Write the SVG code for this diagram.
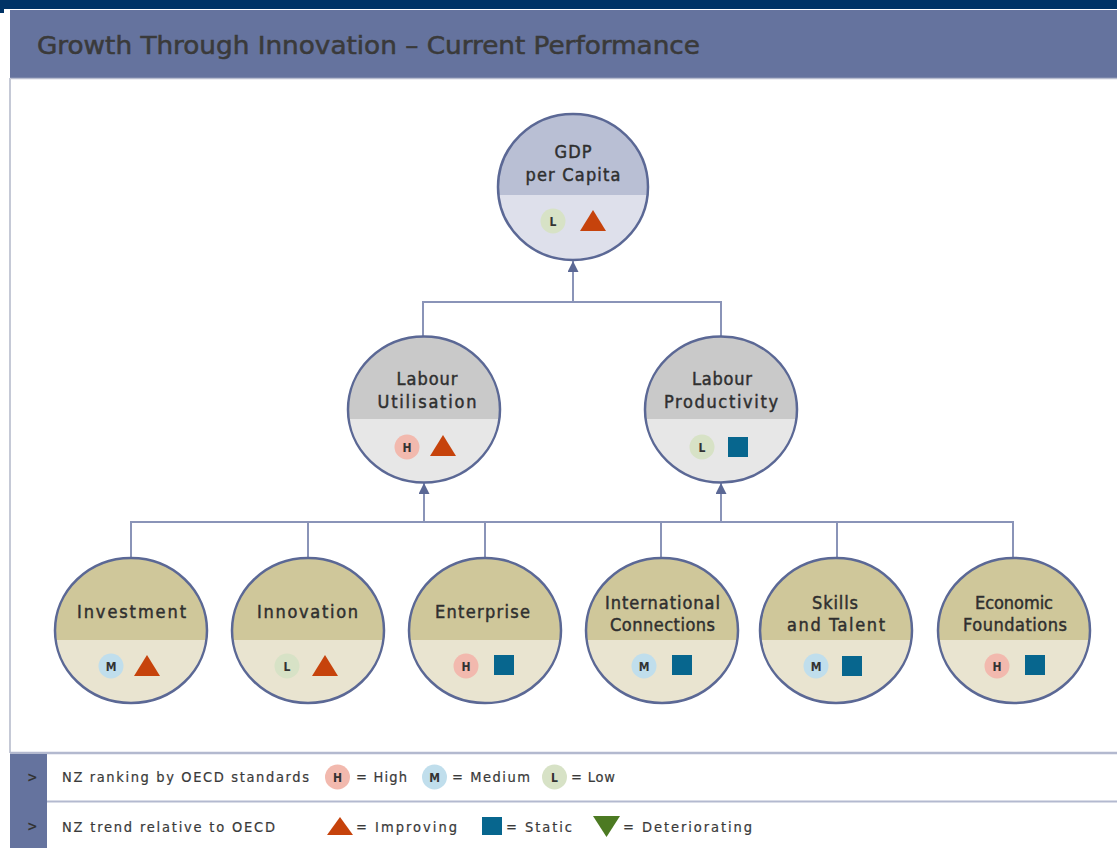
<svg xmlns="http://www.w3.org/2000/svg" width="1117" height="848" viewBox="0 0 1117 848">
<style>
text{font-family:"DejaVu Sans Condensed","DejaVu Sans",sans-serif;fill:#333}
.title{font-size:25px;fill:#3a3a3a;stroke:#3a3a3a;stroke-width:0.5}
.lbl{font-size:18px;text-anchor:middle;fill:#2f2f2f;stroke:#2f2f2f;stroke-width:0.45}
.leg{font-size:14.5px;fill:#3a3a3a;stroke:#3a3a3a;stroke-width:0.2}
.rk{font-size:12px;font-weight:bold;text-anchor:middle;fill:#333}
.ring{fill:none;stroke:#5B6895;stroke-width:2.5}
.conn{fill:none;stroke:#8A94B8;stroke-width:2}
.tri{fill:#C6430C}
.sq{fill:#07668E}
.dn{fill:#4C7A22}
.rH{fill:#F2B9AE}
.rM{fill:#C0DEEC}
.rL{fill:#D7E2C6}
.gT{fill:#B9BFD4}.gB{fill:#DEE0EB}
.lT{fill:#C9C9C9}.lB{fill:#E7E7E7}
.bT{fill:#CFC79A}.bB{fill:#E9E4D0}
</style>
<defs>
<marker id="arr" viewBox="0 0 12 12" refX="12" refY="6" markerWidth="11" markerHeight="11" markerUnits="userSpaceOnUse" orient="auto">
<path d="M0,0 L12,6 L0,12 z" fill="#5B6895"/>
</marker>
<polygon id="up" points="-13,10 0,-11 13,10"/>
<rect id="sqr" x="-10" y="-10" width="20" height="20"/>
</defs>
<rect width="1117" height="848" fill="#fff"/>
<rect x="0" y="0" width="1117" height="9" fill="#003366"/>
<rect x="0" y="0" width="4" height="13" fill="#003366"/>
<g id="header">
<rect x="10" y="10" width="1107" height="68" fill="#65739E"/>
<line x1="10" y1="78.5" x2="1117" y2="78.5" stroke="#B8BDCF" stroke-width="1.5"/>
<text class="title" x="37" y="54" textLength="663" lengthAdjust="spacingAndGlyphs">Growth Through Innovation – Current Performance</text>
</g>
<line x1="10" y1="78" x2="10" y2="753" stroke="#C5C9D6" stroke-width="2"/>
<g id="connectors">
<line class="conn" x1="573" y1="302" x2="573" y2="261" marker-end="url(#arr)"/>
<path class="conn" d="M423,337 V302 H721 V337"/>
<path class="conn" d="M131,559 V522 H1013 V559 M308,522 V559 M485,522 V559 M661,522 V559 M837,522 V559"/>
<line class="conn" x1="424" y1="522" x2="424" y2="483" marker-end="url(#arr)"/>
<line class="conn" x1="721" y1="522" x2="721" y2="483" marker-end="url(#arr)"/>
</g>
<g id="gdp">
<ellipse class="gB" cx="573" cy="187" rx="75" ry="73"/>
<path class="gT" d="M498.5,195 A75 73 0 1 1 647.5,195 Z"/>
<ellipse class="ring" cx="573" cy="187" rx="75" ry="73"/>
<text class="lbl" x="573" y="158" textLength="37">GDP</text>
<text class="lbl" x="573" y="181" textLength="95">per Capita</text>
<circle class="rL" cx="553" cy="221" r="12.5"/><text class="rk" x="553" y="225.5">L</text>
<use href="#up" class="tri" x="593" y="221"/>
</g>
<g id="labour-utilisation">
<ellipse class="lB" cx="424" cy="409.5" rx="76" ry="73"/>
<path class="lT" d="M348.6,419 A76 73 0 1 1 499.4,419 Z"/>
<ellipse class="ring" cx="424" cy="409.5" rx="76" ry="73"/>
<text class="lbl" x="427" y="385" textLength="61">Labour</text>
<text class="lbl" x="427" y="408" textLength="99">Utilisation</text>
<circle class="rH" cx="407" cy="447" r="12.5"/><text class="rk" x="407" y="451.5">H</text>
<use href="#up" class="tri" x="443" y="446"/>
</g>
<g id="labour-productivity">
<ellipse class="lB" cx="721" cy="409.5" rx="76" ry="73"/>
<path class="lT" d="M645.6,419 A76 73 0 1 1 796.4,419 Z"/>
<ellipse class="ring" cx="721" cy="409.5" rx="76" ry="73"/>
<text class="lbl" x="722" y="385" textLength="60">Labour</text>
<text class="lbl" x="721" y="408" textLength="114">Productivity</text>
<circle class="rL" cx="702" cy="447" r="12.5"/><text class="rk" x="702" y="451.5">L</text>
<use href="#sqr" class="sq" x="738" y="447"/>
</g>
<g id="investment">
<ellipse class="bB" cx="131" cy="630.5" rx="76" ry="72.5"/>
<path class="bT" d="M55.6,640 A76 72.5 0 1 1 206.4,640 Z"/>
<ellipse class="ring" cx="131" cy="630.5" rx="76" ry="72.5"/>
<text class="lbl" x="131.5" y="618" textLength="109">Investment</text>
<circle class="rM" cx="111" cy="666" r="12.5"/><text class="rk" x="111" y="670.5">M</text>
<use href="#up" class="tri" x="147" y="666"/>
</g>
<g id="innovation">
<ellipse class="bB" cx="308" cy="630.5" rx="76" ry="72.5"/>
<path class="bT" d="M232.6,640 A76 72.5 0 1 1 383.4,640 Z"/>
<ellipse class="ring" cx="308" cy="630.5" rx="76" ry="72.5"/>
<text class="lbl" x="307.5" y="618" textLength="101">Innovation</text>
<circle class="rL" cx="287" cy="666" r="12.5"/><text class="rk" x="287" y="670.5">L</text>
<use href="#up" class="tri" x="325" y="666"/>
</g>
<g id="enterprise">
<ellipse class="bB" cx="485" cy="630.5" rx="76" ry="72.5"/>
<path class="bT" d="M409.6,640 A76 72.5 0 1 1 560.4,640 Z"/>
<ellipse class="ring" cx="485" cy="630.5" rx="76" ry="72.5"/>
<text class="lbl" x="482.5" y="618" textLength="95">Enterprise</text>
<circle class="rH" cx="466" cy="666" r="12.5"/><text class="rk" x="466" y="670.5">H</text>
<use href="#sqr" class="sq" x="504" y="665"/>
</g>
<g id="international-connections">
<ellipse class="bB" cx="662" cy="630.5" rx="76" ry="72.5"/>
<path class="bT" d="M586.6,640 A76 72.5 0 1 1 737.4,640 Z"/>
<ellipse class="ring" cx="662" cy="630.5" rx="76" ry="72.5"/>
<text class="lbl" x="662.5" y="609" textLength="115">International</text>
<text class="lbl" x="662.5" y="631" textLength="105">Connections</text>
<circle class="rM" cx="644" cy="666" r="12.5"/><text class="rk" x="644" y="670.5">M</text>
<use href="#sqr" class="sq" x="682" y="665"/>
</g>
<g id="skills-and-talent">
<ellipse class="bB" cx="836" cy="630.5" rx="76" ry="72.5"/>
<path class="bT" d="M760.6,640 A76 72.5 0 1 1 911.4,640 Z"/>
<ellipse class="ring" cx="836" cy="630.5" rx="76" ry="72.5"/>
<text class="lbl" x="835" y="609" textLength="46">Skills</text>
<text class="lbl" x="836" y="631" textLength="98">and Talent</text>
<circle class="rM" cx="816" cy="666" r="12.5"/><text class="rk" x="816" y="670.5">M</text>
<use href="#sqr" class="sq" x="852" y="666"/>
</g>
<g id="economic-foundations">
<ellipse class="bB" cx="1014" cy="630.5" rx="76" ry="72.5"/>
<path class="bT" d="M938.6,640 A76 72.5 0 1 1 1089.4,640 Z"/>
<ellipse class="ring" cx="1014" cy="630.5" rx="76" ry="72.5"/>
<text class="lbl" x="1014" y="609" textLength="78">Economic</text>
<text class="lbl" x="1015" y="631" textLength="104">Foundations</text>
<circle class="rH" cx="997" cy="666" r="12.5"/><text class="rk" x="997" y="670.5">H</text>
<use href="#sqr" class="sq" x="1035" y="665"/>
</g>
<g id="legend">
<line x1="10" y1="753" x2="1117" y2="753" stroke="#B3B9CF" stroke-width="2.5"/>
<line x1="47" y1="801.5" x2="1117" y2="801.5" stroke="#B3B9CF" stroke-width="2"/>
<rect x="10" y="754" width="37" height="94" fill="#65739E"/>
<text x="27" y="782" font-size="14" font-weight="bold" fill="#2e3350">&gt;</text>
<text x="27" y="831" font-size="14" font-weight="bold" fill="#2e3350">&gt;</text>
<text class="leg" x="62" y="782" textLength="247">NZ ranking by OECD standards</text>
<circle class="rH" cx="337.5" cy="777" r="12.5"/><text class="rk" x="337.5" y="781.5">H</text>
<text class="leg" x="356" y="782" textLength="51">= High</text>
<circle class="rM" cx="434.5" cy="777" r="12.5"/><text class="rk" x="434.5" y="781.5">M</text>
<text class="leg" x="452" y="782" textLength="78">= Medium</text>
<circle class="rL" cx="554.5" cy="777" r="12.5"/><text class="rk" x="554.5" y="781.5">L</text>
<text class="leg" x="571" y="782" textLength="44">= Low</text>
<text class="leg" x="62" y="832" textLength="213">NZ trend relative to OECD</text>
<polygon class="tri" points="327,835 340,817 353,835"/>
<text class="leg" x="356" y="832" textLength="101">= Improving</text>
<rect class="sq" x="482" y="817" width="20" height="18"/>
<text class="leg" x="506" y="832" textLength="66">= Static</text>
<polygon class="dn" points="593,816 620,816 606.5,837"/>
<text class="leg" x="623" y="832" textLength="129">= Deteriorating</text>
</g>
</svg>
